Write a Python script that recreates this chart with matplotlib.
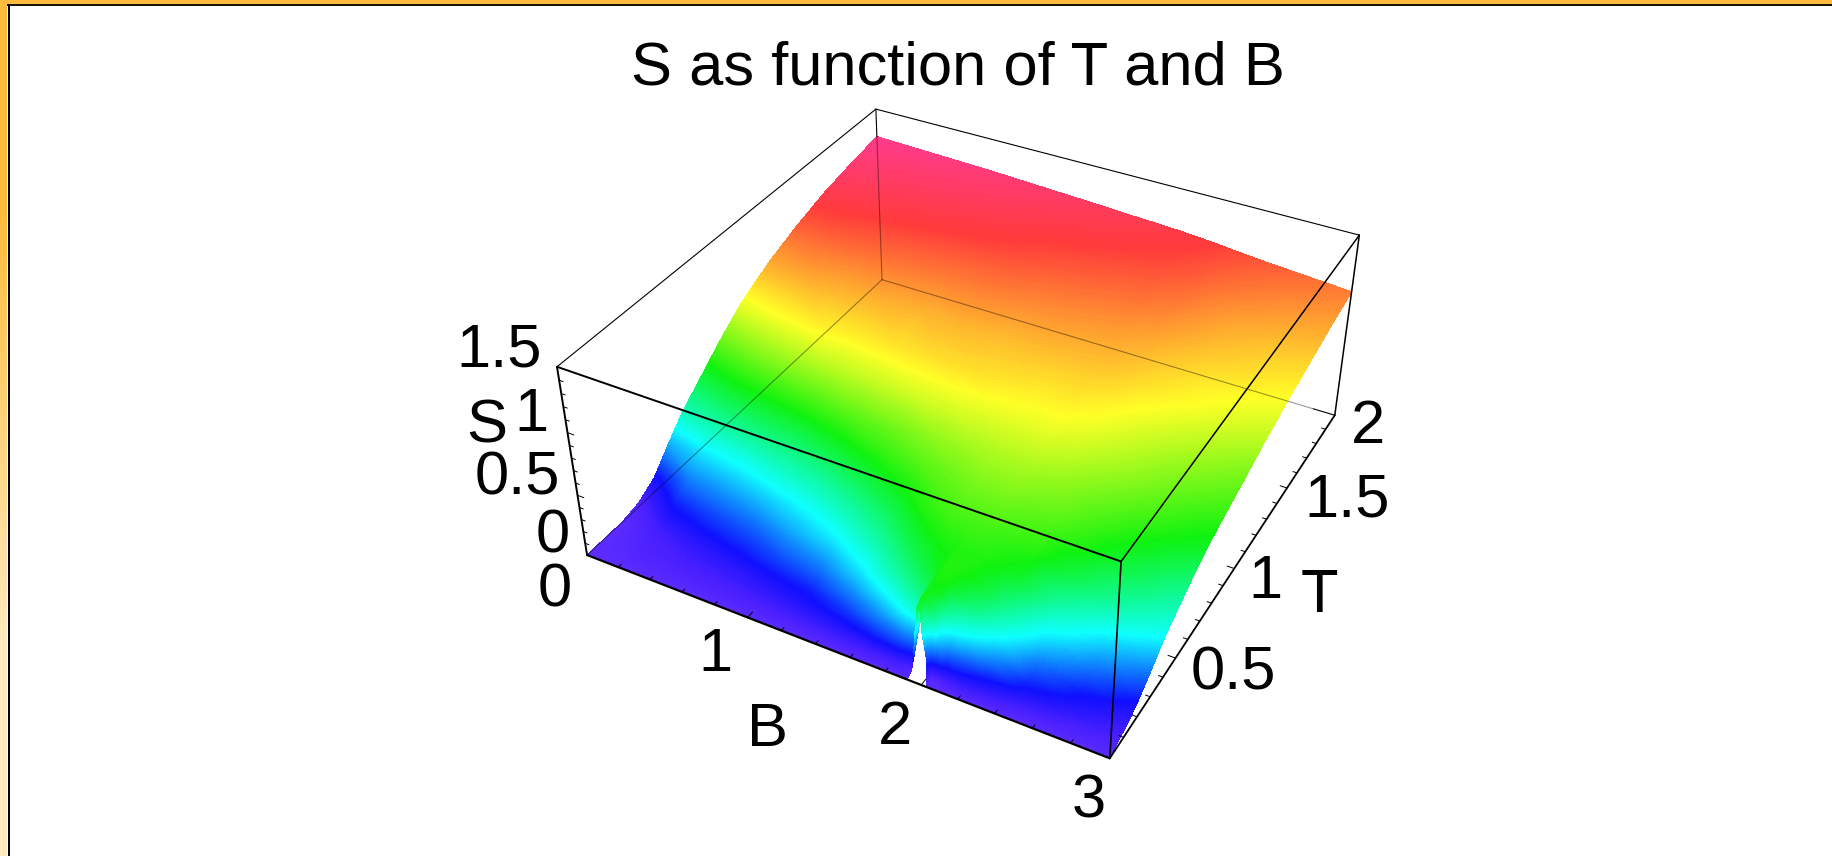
import numpy as np
import matplotlib
matplotlib.use('Agg')
import matplotlib.pyplot as plt
import matplotlib.tri as mtri
from matplotlib.colors import LinearSegmentedColormap

plt.rcParams['font.family'] = ['Liberation Sans', 'DejaVu Sans']

nan = float('nan')

# axes of the plot
B_vals = [0, .25, .5, .75, 1, 1.25, 1.5, 1.7, 1.85, 1.92, 1.93, 1.94, 1.95, 1.96, 1.975, 1.985, 2.005, 2.03, 2.05, 2.1, 2.2, 2.3, 2.5, 2.75, 3]
T_vals = [0, .03, .06, .1, .15, .2, .3, .4, .5, .6, .7, .85, 1, 1.2, 1.4, 1.6, 1.8, 2]

S_rows = [
    [0, 0, 0, 0, 0, 0, 0, 0, 0, 0, nan, nan, nan, nan, nan, nan, nan, 0, 0, 0, 0, 0, 0, 0, 0],
    [0, .01, .015, .02, .025, .035, .05, .06, .06, .02, .10, .26, .42, .56, .56, .36, .18, 0, 0, .05, .08, .07, .04, .03, .02],
    [0, .02, .03, .04, .05, .07, .10, .15, .20, .20, .25, .50, .56, .60, .60, .58, .54, .45, .30, .20, .17, .14, .09, .06, .04],
    [0, .03, .05, .06, .08, .11, .16, .25, .36, .44, .48, .56, .58, .60, .61, .61, .61, .58, .50, .40, .33, .26, .15, .10, .06],
    [0, .04, .07, .09, .12, .15, .24, .36, .48, .54, .55, .58, .60, .62, .63, .63, .63, .63, .60, .56, .48, .38, .22, .14, .09],
    [0, .06, .10, .13, .17, .21, .32, .45, .55, .60, .60, .61, .62, .63, .64, .64, .64, .64, .63, .62, .56, .47, .30, .20, .13],
    [.03, .14, .18, .21, .27, .33, .44, .56, .62, .63, .63, .63, .63, .64, .64, .64, .64, .64, .64, .64, .62, .59, .44, .32, .24],
    [.11, .24, .27, .31, .36, .44, .54, .64] + [.67] * 11 + [.66, .655, .645, .56, .45, .36],
    [.27, .34, .37, .42, .47, .55, .63, .69] + [.71] * 11 + [.70, .69, .68, .63, .54, .44],
    [.42, .47, .50, .53, .59, .65, .70, .73] + [.75] * 11 + [.74, .73, .72, .67, .60, .52],
    [.53, .59, .62, .65, .69, .72, .76, .78] + [.79] * 11 + [.78, .77, .75, .71, .65, .59],
    [.70, .75, .78, .80, .82, .84, .85, .85] + [.85] * 11 + [.84, .83, .81, .77, .71, .66],
    [.85, .88, .90, .90, .91, .92, .92, .91] + [.90] * 11 + [.89, .88, .86, .82, .77, .72],
    [.99, 1.00, .99, .99, .98, .98, .97, .968, .962, .96, .96, .96, .959, .959, .958, .958, .957, .956, .955, .952, .94, .92, .89, .85, .81],
    [1.09, 1.09, 1.08, 1.07, 1.06, 1.055, 1.04, 1.03, 1.02, 1.016, 1.016, 1.015, 1.015, 1.014, 1.014, 1.013, 1.012, 1.01, 1.008, 1.00, .99, .97, .94, .91, .88],
    [1.17, 1.16, 1.15, 1.14, 1.13, 1.12, 1.10, 1.09, 1.08, 1.076, 1.075, 1.075, 1.074, 1.074, 1.073, 1.073, 1.072, 1.07, 1.068, 1.06, 1.05, 1.03, .99, .96, .94],
    [1.225, 1.21, 1.20, 1.19, 1.18, 1.165, 1.15, 1.14, 1.13, 1.126, 1.125, 1.125, 1.124, 1.124, 1.123, 1.122, 1.121, 1.119, 1.117, 1.11, 1.10, 1.08, 1.05, 1.02, 1.00],
    [1.27, 1.26, 1.25, 1.24, 1.225, 1.21, 1.195, 1.18, 1.172, 1.167, 1.166, 1.165, 1.165, 1.164, 1.163, 1.162, 1.16, 1.158, 1.156, 1.15, 1.14, 1.125, 1.10, 1.075, 1.05],
]

# tick labels
B_labels = ['0', '1', '2', '3']
T_labels = ['0.5', '1', '1.5', '2']
S_labels = ['0', '0.5', '1', '1.5']

# camera: where the box corners land in the picture, fitted to a perspective matrix
corners_3d = np.array([[0, 0, 0], [3, 0, 0], [3, 2, 0], [0, 2, 0], [0, 0, 1.5], [3, 0, 1.5], [3, 2, 1.5], [0, 2, 1.5]], float)
corners_px = np.array([[586.7, 554.7], [1110, 758], [1335, 415], [882, 280.4], [557.3, 366.7], [1121, 562.3], [1359, 235], [876, 108.7]])
A = []
b = []
for (X, Y, Z), (x, y) in zip(corners_3d, corners_px):
    A.append([X, Y, Z, 1, 0, 0, 0, 0, -x * X, -x * Y, -x * Z])
    b.append(x)
    A.append([0, 0, 0, 0, X, Y, Z, 1, -y * X, -y * Y, -y * Z])
    b.append(y)
cam = np.linalg.lstsq(np.array(A), np.array(b), rcond=None)[0]
cam = np.append(cam, 1).reshape(3, 4)


def project(B, T, S):
    w = cam[2, 0] * B + cam[2, 1] * T + cam[2, 2] * S + cam[2, 3]
    return ((cam[0, 0] * B + cam[0, 1] * T + cam[0, 2] * S + cam[0, 3]) / w,
            (cam[1, 0] * B + cam[1, 1] * T + cam[1, 2] * S + cam[1, 3]) / w)


def line3d(p, q, **kw):
    x0, y0 = project(*p)
    x1, y1 = project(*q)
    ax.plot([x0, x1], [y0, y1], color='black', solid_capstyle='round', **kw)


hue_map = LinearSegmentedColormap.from_list('hue_s', [
    (0, (.36, .17, 1)), (.05 / 1.27, (.28, .12, 1)), (.13 / 1.27, (.06, .06, 1)), (.35 / 1.27, (.06, 1, 1)),
    (.62 / 1.27, (.06, .95, .06)), (.88 / 1.27, (1, 1, .15)),
    (1.14 / 1.27, (1, .23, .23)), (1, (1, .23, .55))], N=512)

fig = plt.figure(figsize=(18.32, 8.56), dpi=100)
ax = fig.add_axes([0, 0, 1, 1])
ax.axis('off')

# frame of the page
ax.imshow(np.array([[[255, 188, 60]], [[255, 234, 190]]], dtype=np.uint8), extent=(0, 7, 856, 0),
          aspect='auto', interpolation='bilinear', zorder=1)
ax.fill_between([0, 1832], 0, 3.5, color='#ffbc3c', lw=0, zorder=2)
ax.fill_between([7, 1832], 3.5, 5.5, color='#1c1608', lw=0, zorder=2)
ax.fill_between([7.5, 10], 4, 856, color='black', lw=0, zorder=2)
ax.set_xlim(0, 1832)
ax.set_ylim(856, 0)

# surface
BB, TT = np.meshgrid(B_vals, T_vals)
SS = np.array(S_rows)
px, py = project(BB, TT, np.nan_to_num(SS))
nb = len(B_vals)
ids = np.arange(SS.size).reshape(SS.shape)
tris = []
for i in range(len(T_vals) - 1):
    for j in range(nb - 1):
        tris.append([ids[i, j], ids[i, j + 1], ids[i + 1, j]])
        tris.append([ids[i, j + 1], ids[i + 1, j + 1], ids[i + 1, j]])
tris = np.array(tris)
mesh = mtri.Triangulation(px.ravel(), py.ravel(), tris, mask=np.isnan(SS.ravel()[tris]).any(axis=1))
ax.tricontourf(mesh, np.nan_to_num(SS).ravel(), levels=np.linspace(-.001, 1.271, 320), cmap=hue_map, zorder=3)

# box edges behind the surface are seen only faintly
back = dict(lw=0.8, alpha=0.4, zorder=4)
line3d((0, 0, 0), (0, 2, 0), **back)
line3d((0, 2, 0), (2.87, 2, 0), **back)
line3d((0, 2, 0), (0, 2, 1.27), **back)
thin = dict(lw=0.8, zorder=5)
line3d((2.87, 2, 0), (3, 2, 0), **thin)
line3d((0, 2, 1.27), (0, 2, 1.5), **thin)
line3d((0, 0, 1.5), (0, 2, 1.5), **thin)
line3d((0, 2, 1.5), (3, 2, 1.5), **thin)
line3d((3, 2, 0), (3, 2, 1.5), lw=1.1, zorder=5)
line3d((3, 0, 1.5), (3, 2, 1.5), lw=1.1, zorder=5)
line3d((3, 0, 0), (3, 0, 1.5), lw=1.2, zorder=5)
line3d((0, 0, 1.5), (3, 0, 1.5), lw=1.4, zorder=5)
line3d((0, 0, 0), (0, 0, 1.5), lw=1.4, zorder=5)
line3d((0, 0, 0), (3, 0, 0), lw=1.6, zorder=5)
line3d((3, 0, 0), (3, 2, 0), lw=1.3, zorder=5)

# ticks
for i in range(1, 15):
    v = i * .2
    d = .03 if i % 5 == 0 else .017
    line3d((v, 0, 0), (v, d, 0), lw=.7, zorder=5)
for i in range(1, 20):
    v = i * .1
    d = .04 if i % 5 == 0 else .024
    line3d((3, v, 0), (3 - d, v, 0), lw=.7, zorder=5)
for i in range(1, 15):
    v = i * .1
    d = .04 if i % 5 == 0 else .024
    line3d((0, 0, v), (d, 0, v), lw=.7, zorder=5)

# text, centred where it sits in the picture
fs = 44.3
ax.text(958, 69, 'S as function of T and B', fontsize=fs, ha='center', va='center', zorder=6)
for lab, (x, y) in zip(S_labels, [(552.7, 537), (517.7, 479), (531.7, 415.7), (499, 351)]):
    ax.text(x, y, lab, fontsize=fs, ha='center', va='center', zorder=6)
ax.text(486.7, 427, 'S', fontsize=fs, ha='center', va='center', zorder=6)
for lab, (x, y) in zip(B_labels, [(555, 590.7), (715.7, 655.7), (895, 728.6), (1089, 802)]):
    ax.text(x, y, lab, fontsize=fs, ha='center', va='center', zorder=6)
ax.text(767.6, 731, 'B', fontsize=fs, ha='center', va='center', zorder=6)
for lab, (x, y) in zip(T_labels, [(1233, 674), (1265.7, 582), (1347, 501), (1368, 427)]):
    ax.text(x, y, lab, fontsize=fs, ha='center', va='center', zorder=6)
ax.text(1319, 597, 'T', fontsize=fs, ha='center', va='center', zorder=6)

fig.savefig('out.png', dpi=100)
